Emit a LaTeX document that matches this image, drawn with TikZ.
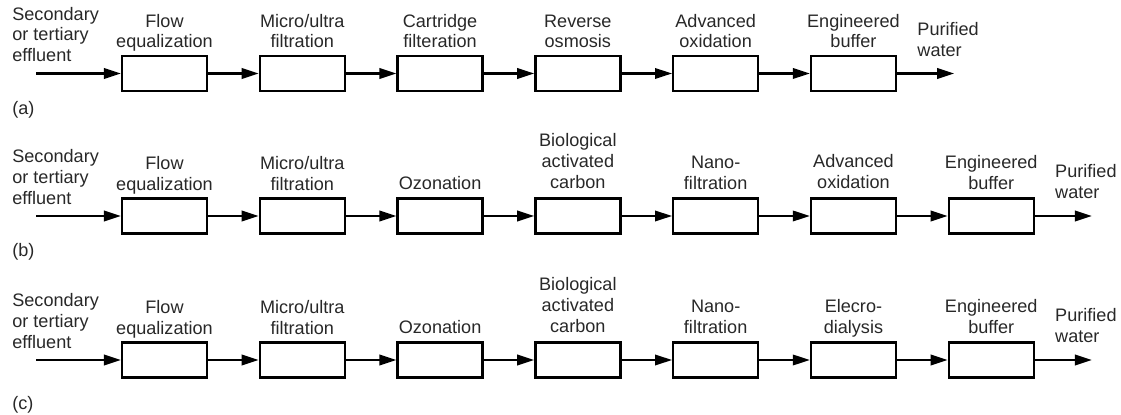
\documentclass[tikz,border=0pt]{standalone}
\usepackage{fontspec}
\setmainfont{Liberation Sans}
\usetikzlibrary{positioning,arrows.meta}
\definecolor{stageink}{RGB}{40,40,40}

\begin{document}
\begin{tikzpicture}[
  x=1mm, y=1mm,
  stagebox/.style={draw=black, line width=1.3pt, minimum width=17mm, minimum height=7mm, inner sep=0pt},
  stagelabel/.style={text=stageink, align=center, inner sep=0pt, text depth=0pt, font=\fontsize{10.3}{11.8}\selectfont},
  sidelabel/.style={stagelabel, align=left, anchor=south west},
  tag/.style={text=stageink, inner sep=0pt, anchor=west, font=\fontsize{10.3}{11.8}\selectfont},
  flow/.style={line width=1.2pt, -{Triangle[length=3.4mm,width=2.1mm]}},
  node distance=10.1mm
]
\useasboundingbox (0,0) rectangle (224.2,-83);

% row (a)
\node[stagebox] (a1) at (32.9,-14.7) {};
\node[stagebox, right=of a1] (a2) {};
\node[stagebox, right=of a2] (a3) {};
\node[stagebox, right=of a3] (a4) {};
\node[stagebox, right=of a4] (a5) {};
\node[stagebox, right=of a5] (a6) {};
\coordinate (ain) at (7.2,-14.7);
\coordinate[right=11.4mm of a6.east] (aout);

\node[stagelabel, above=1.3mm of a1] (a1lbl) {Flow\\equalization};
\node[stagelabel, above=1.3mm of a2] (a2lbl) {Micro/ultra\\filtration};
\node[stagelabel, above=1.3mm of a3] (a3lbl) {Cartridge\\filteration};
\node[stagelabel, above=1.3mm of a4] (a4lbl) {Reverse\\osmosis};
\node[stagelabel, above=1.3mm of a5] (a5lbl) {Advanced\\oxidation};
\node[stagelabel, above=1.3mm of a6] (a6lbl) {Engineered\\buffer};
\node[sidelabel] (asrc) at ([xshift=-4.8mm, yshift=2.3mm]ain) {Secondary\\or tertiary\\effluent};
\node[sidelabel] (aprod) at ([xshift=4mm, yshift=-0.3mm]a6.north east) {Purified\\water};
\node[tag] (atag) at (2.4,-22) {(a)};

\draw[flow] (ain) -- (a1);
\draw[flow] (a1) -- (a2);
\draw[flow] (a2) -- (a3);
\draw[flow] (a3) -- (a4);
\draw[flow] (a4) -- (a5);
\draw[flow] (a5) -- (a6);
\draw[flow] (a6) -- (aout);

% row (b)
\node[stagebox] (b1) at (32.9,-43.2) {};
\node[stagebox, right=of b1] (b2) {};
\node[stagebox, right=of b2] (b3) {};
\node[stagebox, right=of b3] (b4) {};
\node[stagebox, right=of b4] (b5) {};
\node[stagebox, right=of b5] (b6) {};
\node[stagebox, right=of b6] (b7) {};
\coordinate (bin) at (7.2,-43.2);
\coordinate[right=11.4mm of b7.east] (bout);

\node[stagelabel, above=1.3mm of b1] (b1lbl) {Flow\\equalization};
\node[stagelabel, above=1.3mm of b2] (b2lbl) {Micro/ultra\\filtration};
\node[stagelabel, above=1.6mm of b3] (b3lbl) {Ozonation};
\node[stagelabel, above=1.8mm of b4] (b4lbl) {Biological\\activated\\carbon};
\node[stagelabel, above=1.6mm of b5] (b5lbl) {Nano-\\filtration};
\node[stagelabel, above=1.8mm of b6] (b6lbl) {Advanced\\oxidation};
\node[stagelabel, above=1.5mm of b7] (b7lbl) {Engineered\\buffer};
\node[sidelabel] (bsrc) at ([xshift=-4.8mm, yshift=2.3mm]bin) {Secondary\\or tertiary\\effluent};
\node[sidelabel] (bprod) at ([xshift=4mm, yshift=-0.3mm]b7.north east) {Purified\\water};
\node[tag] (btag) at (2.4,-50.4) {(b)};

\draw[flow] (bin) -- (b1);
\draw[flow] (b1) -- (b2);
\draw[flow] (b2) -- (b3);
\draw[flow] (b3) -- (b4);
\draw[flow] (b4) -- (b5);
\draw[flow] (b5) -- (b6);
\draw[flow] (b6) -- (b7);
\draw[flow] (b7) -- (bout);

% row (c)
\node[stagebox] (c1) at (32.9,-72) {};
\node[stagebox, right=of c1] (c2) {};
\node[stagebox, right=of c2] (c3) {};
\node[stagebox, right=of c3] (c4) {};
\node[stagebox, right=of c4] (c5) {};
\node[stagebox, right=of c5] (c6) {};
\node[stagebox, right=of c6] (c7) {};
\coordinate (cin) at (7.2,-72);
\coordinate[right=11.4mm of c7.east] (cout);

\node[stagelabel, above=1.3mm of c1] (c1lbl) {Flow\\equalization};
\node[stagelabel, above=1.3mm of c2] (c2lbl) {Micro/ultra\\filtration};
\node[stagelabel, above=1.6mm of c3] (c3lbl) {Ozonation};
\node[stagelabel, above=1.8mm of c4] (c4lbl) {Biological\\activated\\carbon};
\node[stagelabel, above=1.6mm of c5] (c5lbl) {Nano-\\filtration};
\node[stagelabel, above=1.6mm of c6] (c6lbl) {Elecro-\\dialysis};
\node[stagelabel, above=1.5mm of c7] (c7lbl) {Engineered\\buffer};
\node[sidelabel] (csrc) at ([xshift=-4.8mm, yshift=2.3mm]cin) {Secondary\\or tertiary\\effluent};
\node[sidelabel] (cprod) at ([xshift=4mm, yshift=-0.3mm]c7.north east) {Purified\\water};
\node[tag] (ctag) at (2.4,-81) {(c)};

\draw[flow] (cin) -- (c1);
\draw[flow] (c1) -- (c2);
\draw[flow] (c2) -- (c3);
\draw[flow] (c3) -- (c4);
\draw[flow] (c4) -- (c5);
\draw[flow] (c5) -- (c6);
\draw[flow] (c6) -- (c7);
\draw[flow] (c7) -- (cout);
\end{tikzpicture}
\end{document}
